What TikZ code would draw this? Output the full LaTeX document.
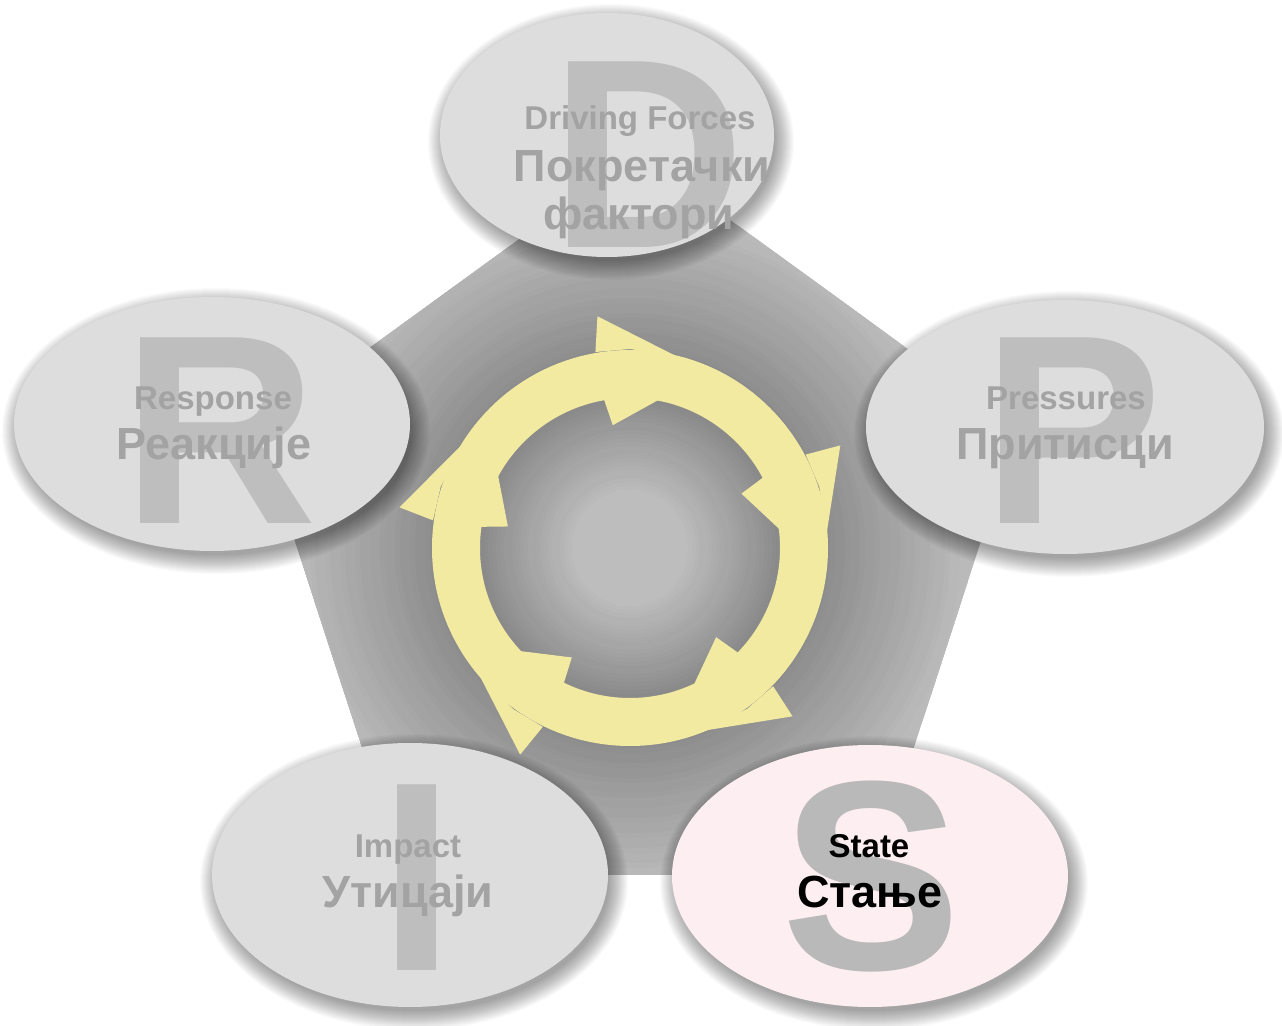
\documentclass[tikz,border=0pt]{standalone}
\usepackage{fontspec}
\setmainfont{Liberation Sans}
\definecolor{bubblegray}{HTML}{DDDDDD}
\definecolor{statepink}{HTML}{FCEEF1}
\definecolor{letgray}{HTML}{BEBEBE}
\definecolor{statelet}{HTML}{B9B9B9}
\definecolor{labgray}{HTML}{A3A3A3}
\definecolor{ringyellow}{HTML}{F3EAA2}
\definecolor{pentgray}{HTML}{BABABA}
% soft drop shadow under an elliptic bubble: centre x, centre y, x radius, y radius
\newcommand\bubbleshadow[4]{%
  \foreach \k in {0,...,19}{%
    \fill[black,opacity=0.018] (#1+4,#2-7) ellipse [x radius=#3+16-\k, y radius=#4+16-\k];
  }}
\begin{document}
\begin{tikzpicture}[x=0.5pt,y=0.5pt,
  bigletter/.style={font=\fontsize{135}{135}\selectfont\bfseries, text=letgray, inner sep=0pt, anchor=base},
  smalllabel/.style={font=\fontsize{16.5}{16.5}\selectfont\bfseries, text=labgray, inner sep=0pt, anchor=base},
  largelabel/.style={font=\fontsize{22.5}{22.5}\selectfont\bfseries, text=labgray, inner sep=0pt, anchor=base},
  bubble/.style={fill=bubblegray}]
\useasboundingbox (0,0) rectangle (1282,1025);
\fill[white] (0,0) rectangle (1282,1025);

% grey pentagon with a dark halo around the cycle
\begin{scope}
  \clip[shift={(638,473)}] (90:399) -- (162:399) -- (234:399) -- (306:399) -- (18:399) -- cycle;
  \fill[pentgray] (0,0) rectangle (1282,1025);
  \foreach \r in {340,335,...,200}{%
    \pgfmathtruncatemacro\p{27+(340-\r)*18/140}
    \fill[black!\p] (630,477) circle (\r);
  }
  \foreach \r in {150,146,...,2}{%
    \pgfmathtruncatemacro\p{max(26,26+(\r-55)*20/95)}
    \fill[black!\p] (630,477) circle (\r);
  }
\end{scope}

% yellow cycle of five arrows
\begin{scope}[shift={(630,477)}]
  \fill[ringyellow, even odd rule] (0,0) circle (198) (0,0) circle (150);
  \foreach \t in {98,26,-46,-118,-190}{%
    \fill[ringyellow] (\t:234) -- (\t-22:197) -- (\t-8:199) -- (\t+2:199) -- cycle;
    \fill[ringyellow] (\t:124) -- (\t-19:151) -- (\t-9:152) -- (\t+2:152) -- cycle;
  }
\end{scope}

% bubbles
\bubbleshadow{607}{890}{167}{122}
\bubbleshadow{1065}{598}{199}{127}
\bubbleshadow{212}{601}{198}{127}
\bubbleshadow{410}{150}{198}{132}
\bubbleshadow{870}{149}{198}{131}
\fill[bubble] (607,890) ellipse [x radius=167, y radius=122];
\fill[bubble] (1065,598) ellipse [x radius=199, y radius=127];
\fill[bubble] (212,601) ellipse [x radius=198, y radius=127];
\fill[bubble] (410,150) ellipse [x radius=198, y radius=132];
\fill[statepink] (870,149) ellipse [x radius=198, y radius=131];

% initials
\node[bigletter] (bigD) at (648,777) {D};
\node[bigletter] (bigP) at (1073,502) {P};
\node[bigletter] (bigR) at (220,502) {R};
\node[bigletter] (bigI) at (417,55) {I};
\node[bigletter, text=statelet] (bigS) at (872,56) {S};

% labels
\node[smalllabel] (dEn) at (640,895) {Driving Forces};
\node[largelabel] (dSr1) at (642,843) {Покретачки};
\node[largelabel] (dSr2) at (639,795) {фактори};

\node[smalllabel] (pEn) at (1066,615) {Pressures};
\node[largelabel] (pSr) at (1065,565) {Притисци};

\node[smalllabel] (rEn) at (213,615) {Response};
\node[largelabel] (rSr) at (214,565) {Реакције};

\node[smalllabel] (iEn) at (408,168) {Impact};
\node[largelabel] (iSr) at (408,118) {Утицаји};

\node[smalllabel, text=black] (sEn) at (869,168) {State};
\node[largelabel, text=black] (sSr) at (870,118) {Стање};
\end{tikzpicture}
\end{document}
